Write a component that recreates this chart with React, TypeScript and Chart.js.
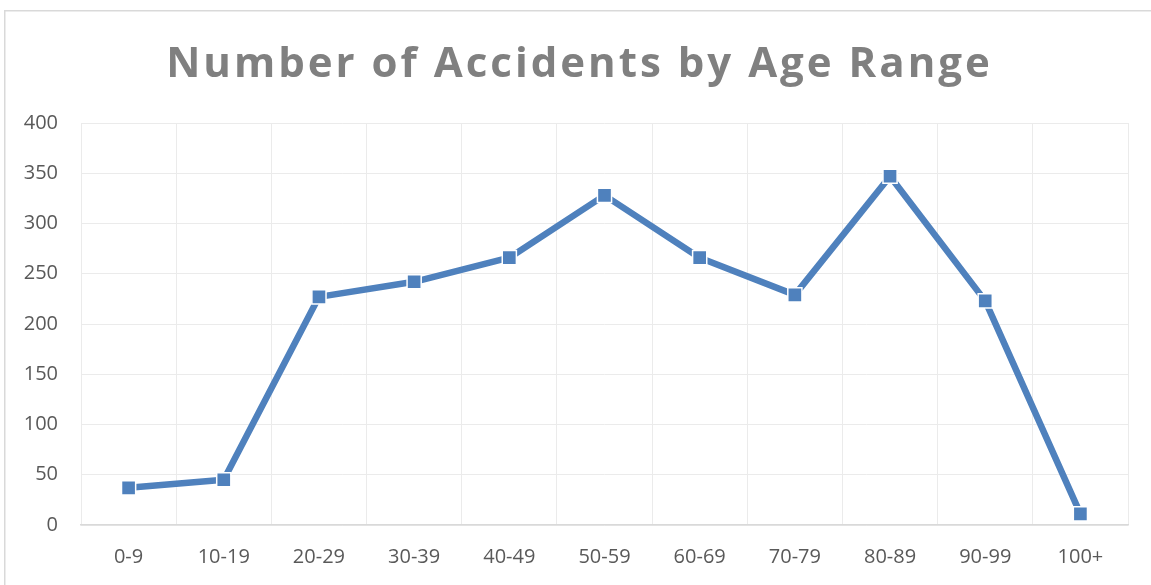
import React, { useEffect, useRef } from "react";
import { Chart, registerables } from "chart.js";

Chart.register(...registerables);

const TITLE = "Number of Accidents by Age Range";
const AGE_RANGES = ["0-9", "10-19", "20-29", "30-39", "40-49", "50-59", "60-69", "70-79", "80-89", "90-99", "100+"];
const ACCIDENTS = [37, 45, 227, 242, 266, 328, 266, 229, 347, 223, 11];
const Y_MIN = 0;
const Y_MAX = 400;
const Y_STEP = 50;

const FONT = '"Open Sans", "Noto Sans", sans-serif';

const frameAndTitle = {
  id: "frameAndTitle",
  beforeDraw(chart: any) {
    const ctx = chart.ctx;
    ctx.save();
    ctx.fillStyle = "#ffffff";
    ctx.fillRect(0, 0, chart.width, chart.height);
    ctx.strokeStyle = "#D9D9D9";
    ctx.lineWidth = 1.5;
    ctx.strokeRect(4.75, 10.75, chart.width + 20, chart.height + 20);
    ctx.restore();
  },
  afterDraw(chart: any) {
    const ctx = chart.ctx;
    ctx.save();
    ctx.font = `bold 42px ${FONT}`;
    ctx.fillStyle = "#808080";
    ctx.textAlign = "center";
    ctx.textBaseline = "alphabetic";
    (ctx as any).letterSpacing = "3px";
    ctx.fillText(TITLE, chart.width / 2 + 4, 77);
    ctx.restore();
  },
};

export default function App() {
  const ref = useRef<HTMLCanvasElement | null>(null);

  useEffect(() => {
    if (!ref.current) return;
    const chart = new Chart(ref.current, {
      type: "line",
      data: {
        labels: AGE_RANGES,
        datasets: [
          {
            label: "Accidents",
            data: ACCIDENTS,
            borderColor: "#4F81BD",
            backgroundColor: "#4F81BD",
            borderWidth: 6.5,
            borderJoinStyle: "round",
            borderCapStyle: "round",
            tension: 0,
            pointStyle: "rect",
            pointRadius: 10,
            pointBackgroundColor: "#4F81BD",
            pointBorderColor: "#ffffff",
            pointBorderWidth: 1.5,
            pointHoverRadius: 10,
          },
        ],
      },
      options: {
        animation: false,
        responsive: true,
        maintainAspectRatio: false,
        events: [],
        layout: { padding: { top: 123, right: 23, bottom: 0, left: 0 } },
        plugins: {
          legend: { display: false },
          title: { display: false },
          tooltip: { enabled: false },
        },
        scales: {
          x: {
            type: "category",
            offset: true,
            grid: { offset: true, color: "#EBEBEB", lineWidth: 1, drawTicks: false },
            border: { display: true, color: "#D9D9D9", width: 1.5 },
            ticks: {
              color: "#595959",
              font: { family: FONT, size: 20 },
              padding: 20,
              maxRotation: 0,
              autoSkip: false,
            },
            afterFit(scale: any) {
              scale.height = 60;
            },
          },
          y: {
            min: Y_MIN,
            max: Y_MAX,
            grid: { color: "#EBEBEB", lineWidth: 1, drawTicks: false },
            border: { display: false },
            ticks: {
              stepSize: Y_STEP,
              color: "#595959",
              font: { family: FONT, size: 20 },
              padding: 23,
            },
            afterFit(scale: any) {
              scale.width = 81;
            },
          },
        },
      },
      plugins: [frameAndTitle],
    });
    return () => chart.destroy();
  }, []);

  return (
    <div style={{ position: "absolute", left: 0, top: 0, width: 1151, height: 585 }}>
      <canvas ref={ref} />
    </div>
  );
}
